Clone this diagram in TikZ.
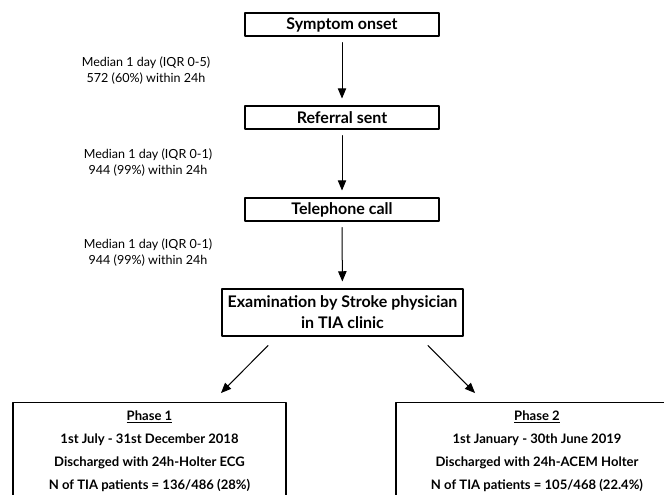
\documentclass[tikz,border=0pt]{standalone}
\usepackage{fontspec}
\setmainfont{Lato}
\usetikzlibrary{arrows,calc}

\begin{document}
\begin{tikzpicture}[line cap=round,line join=round,>=triangle 45,x=0.75pt,y=-0.75pt,
    box/.style={draw,line width=0.8pt,minimum width=145.5pt,minimum height=17.25pt,inner sep=0pt,font=\bfseries\fontsize{12}{13}\selectfont},
    exambox/.style={draw,line width=0.8pt,minimum width=180.75pt,minimum height=35.25pt,inner sep=0pt,align=center,font=\bfseries\fontsize{12}{15.75}\selectfont},
    phasebox/.style={draw,line width=0.8pt,anchor=north,inner xsep=0pt,inner ysep=6pt,align=center,font=\bfseries\fontsize{9.8}{17.4}\selectfont},
    note/.style={align=center,inner sep=0pt,font=\fontsize{9.4}{12}\selectfont},
    flow/.style={->,line width=0.75pt,shorten <=4.5pt,shorten >=5.25pt}]
    \useasboundingbox (0,0) rectangle (664,494);
    \clip (0,0) rectangle (664,494);

    \node[box] (onset) at (342,24.5) {Symptom onset};
    \node[box] (referral) at (342,117.5) {Referral sent};
    \node[box] (phone) at (342,209.5) {Telephone call};
    \node[exambox] (exam) at (342.5,312.5) {Examination by Stroke physician\\in TIA clinic};
    \node[phasebox,minimum width=204.75pt] (phase1) at (149.5,402) {\underline{Phase 1}\\1st July - 31st December 2018\\Discharged with 24h-Holter ECG\\N of TIA patients = 136/486 (28\%)};
    \node[phasebox,minimum width=211.5pt] (phase2) at (537,402) {\underline{Phase 2}\\1st January - 30th June 2019\\Discharged with 24h-ACEM Holter\\N of TIA patients = 105/468 (22.4\%)};

    \node[note] (delay1) at (146,71) {Median 1 day (IQR 0-5)\\572 (60\%) within 24h};
    \node[note] (delay2) at (148,163) {Median 1 day (IQR 0-1)\\944 (99\%) within 24h};
    \node[note] (delay3) at (148,253) {Median 1 day (IQR 0-1)\\944 (99\%) within 24h};

    \draw[flow] (onset) -- (referral);
    \draw[flow] (referral) -- (phone);
    \draw[flow] (phone) -- (exam);
    \draw[->,line width=0.75pt] ($(exam.south)+(-74.5,9)$) -- ($(phase1.north)+(71.5,-9)$);
    \draw[->,line width=0.75pt] ($(exam.south)+(85.5,9)$) -- ($(phase2.north)+(-62,-9)$);

\end{tikzpicture}
\end{document}
